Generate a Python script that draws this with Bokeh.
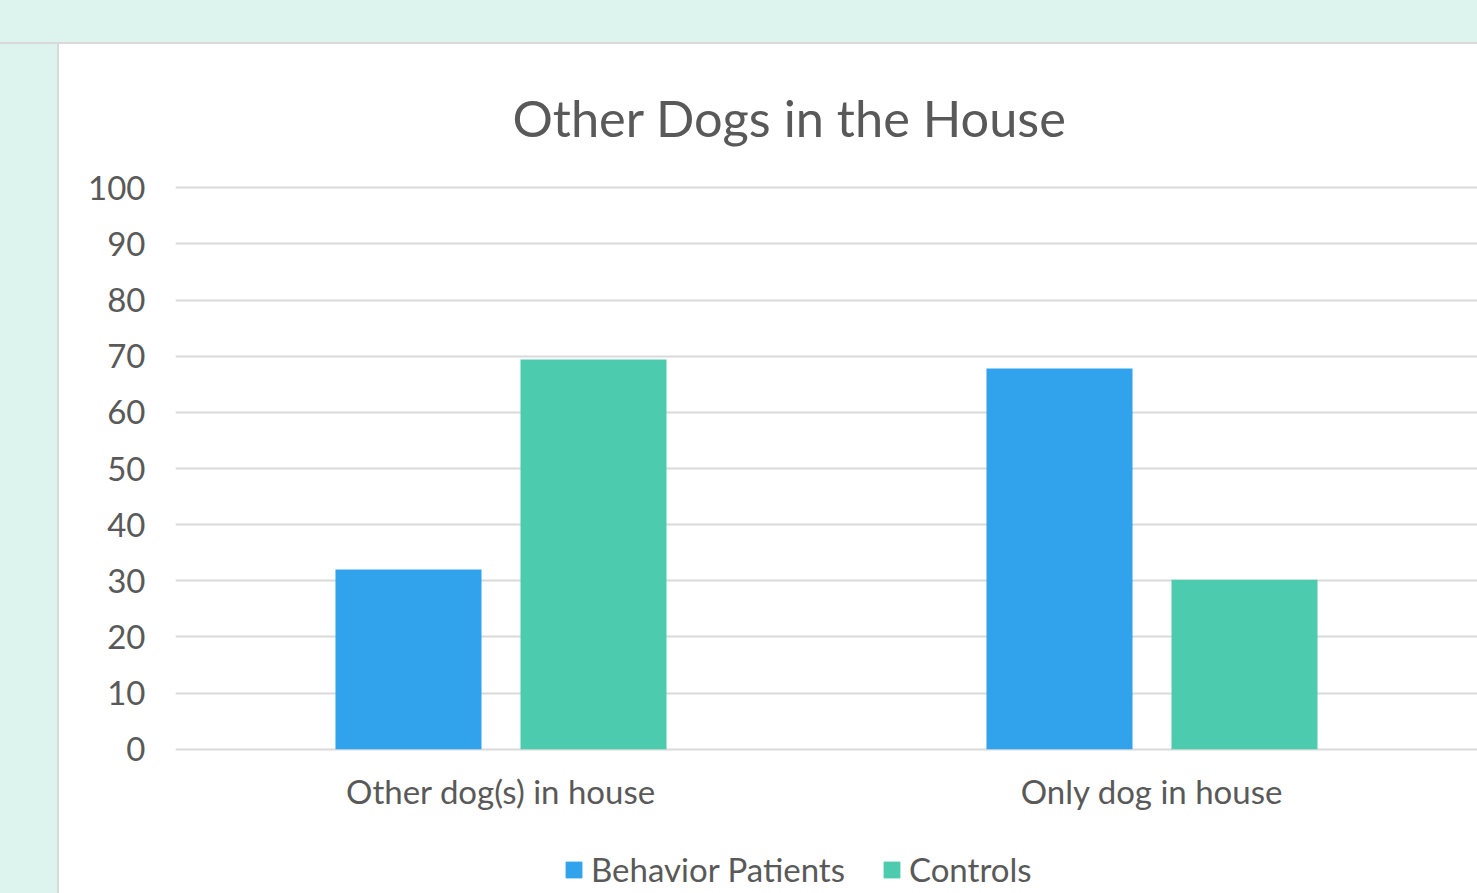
from bokeh.plotting import figure
from bokeh.models import (FactorRange, Range1d, Legend, LegendItem, Div,
                          FixedTicker, ColumnDataSource)
from bokeh.layouts import column, row
from bokeh.transform import dodge
from bokeh.embed import file_html
from bokeh.resources import INLINE

# ---- data ----
categories = ["Other dog(s) in house", "Only dog in house"]
behavior_patients = [32.0, 67.8]
controls = [69.4, 30.2]
y_ticks = [0, 10, 20, 30, 40, 50, 60, 70, 80, 90, 100]
title_text = "Other Dogs in the House"
series_names = ["Behavior Patients", "Controls"]

# ---- style ----
MINT = "#dcf3ee"
BORDER = "#d9d9d9"
BLUE = "#30a3ec"
GREEN = "#4ccbae"
TEXT = "#595959"
FONT = "Lato"
LABEL_SIZE = "33px"

source = ColumnDataSource(data=dict(cat=categories, bp=behavior_patients, ct=controls))

W = 1418
H_MAIN = 790
H_LEG = 59

p = figure(
    width=W, height=H_MAIN,
    x_range=FactorRange(factors=categories),
    y_range=Range1d(-0.4, 100.4),
    output_backend="svg", toolbar_location=None,
    min_border_left=116, min_border_right=0,
    min_border_top=141, min_border_bottom=83,
)
p.border_fill_color = "white"
p.background_fill_color = "white"
p.outline_line_color = None

p.vbar(x=dodge("cat", -0.1421, range=p.x_range), top="bp", width=0.2243,
       source=source, fill_color=BLUE, line_color=None)
p.vbar(x=dodge("cat", 0.1421, range=p.x_range), top="ct", width=0.2243,
       source=source, fill_color=GREEN, line_color=None)

# title
p.title.text = title_text
p.title.text_font = FONT
p.title.text_font_size = "50.5px"
p.title.text_font_style = "normal"
p.title.text_color = TEXT
p.title.align = "left"
p.title.offset = 337
p.title.vertical_align = "top"
p.title.standoff = 72

# axes
for ax in (p.xaxis, p.yaxis):
    ax.axis_line_color = None
    ax.major_tick_line_color = None
    ax.minor_tick_line_color = None
    ax.major_tick_out = 0
    ax.major_tick_in = 0
    ax.minor_tick_out = 0
    ax.minor_tick_in = 0
    ax.major_label_text_font = FONT
    ax.major_label_text_font_size = LABEL_SIZE
    ax.major_label_text_color = TEXT

p.yaxis.ticker = FixedTicker(ticks=y_ticks)
p.yaxis.major_label_standoff = 30
p.xaxis.major_label_standoff = 19

# grid
p.xgrid.grid_line_color = None
p.ygrid.grid_line_color = BORDER
p.ygrid.grid_line_width = 2

# legend strip (separate small figure holding only the legend; its frame
# is aligned with the main figure's frame by the column layout)
pl = figure(width=W, height=H_LEG, output_backend="svg", toolbar_location=None,
            x_axis_type=None, y_axis_type=None,
            x_range=FactorRange(factors=categories), y_range=Range1d(0, 100),
            min_border_left=0, min_border_right=0, min_border_top=0, min_border_bottom=0)
pl.border_fill_color = "white"
pl.background_fill_color = "white"
pl.outline_line_color = None
pl.grid.visible = False
# zero-height proxy bars, used only for the legend swatches
proxy = ColumnDataSource(data=dict(cat=[categories[0]], v=[0]))
lr1 = pl.vbar(x="cat", top="v", bottom="v", width=0.2, source=proxy,
              fill_color=BLUE, line_color=None)
lr2 = pl.vbar(x="cat", top="v", bottom="v", width=0.2, source=proxy,
              fill_color=GREEN, line_color=None)

legend = Legend(
    items=[LegendItem(label=series_names[0], renderers=[lr1]),
           LegendItem(label=series_names[1], renderers=[lr2])],
    orientation="horizontal",
    location=(388, 4),
    glyph_width=21, glyph_height=21,
    label_standoff=7, spacing=36,
    padding=0, margin=0,
    label_text_font=FONT, label_text_font_size=LABEL_SIZE, label_text_color=TEXT,
    background_fill_alpha=0, border_line_color=None,
)
pl.add_layout(legend, "center")

top_div = Div(text="", width=59 + W, height=44, margin=(0, 0, 0, 0),
              styles={"background": f"linear-gradient(to bottom, {MINT} 0px, {MINT} 42px, {BORDER} 42px, {BORDER} 44px)"})
left_div = Div(text="", width=59, height=H_MAIN + H_LEG, margin=(0, 0, 0, 0),
               styles={"background": f"linear-gradient(to right, {MINT} 0px, {MINT} 57px, {BORDER} 57px, {BORDER} 59px)"})

layout = column(top_div, row(left_div, column(p, pl, spacing=0), spacing=0), spacing=0)

open("out.html", "w").write(file_html(layout, INLINE))
